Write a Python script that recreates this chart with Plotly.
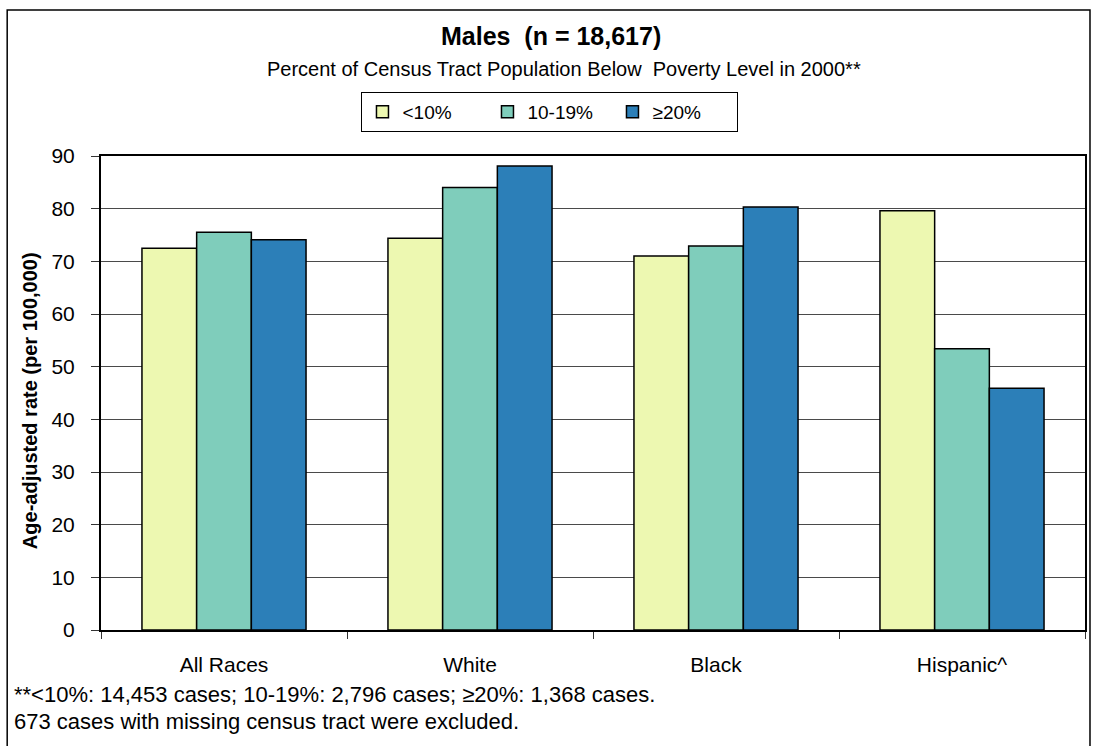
import plotly.graph_objects as go

# Age-adjusted rates (per 100,000) by race and census-tract poverty level
races = ["All Races", "White", "Black", "Hispanic^"]
poverty_levels = ["<10%", "10-19%", "≥20%"]
rate_lt10 = [72.5, 74.4, 71.0, 79.6]
rate_10_19 = [75.5, 84.0, 72.9, 53.4]
rate_ge20 = [74.1, 88.1, 80.3, 45.9]
bar_colors = ["#EDF8B1", "#7FCDBB", "#2C7FB8"]
y_ticks = [0, 10, 20, 30, 40, 50, 60, 70, 80, 90]

W, H = 1094, 746
ML, MR, MT, MB = 101, 7, 156, 116
PW, PH = W - ML - MR, H - MT - MB


def px_x(px):
    return (px - ML) / PW


def px_y(py):
    return (H - MB - py) / PH


FONT = "Arial, Liberation Sans, sans-serif"

fig = go.Figure()
for name, vals, col in zip(poverty_levels, [rate_lt10, rate_10_19, rate_ge20], bar_colors):
    fig.add_trace(go.Bar(
        x=races, y=vals, name=name,
        marker=dict(color=col, line=dict(color="black", width=1.5)),
    ))

fig.update_layout(
    width=W, height=H,
    margin=dict(l=ML, r=MR, t=MT, b=MB, pad=0),
    paper_bgcolor="white", plot_bgcolor="white",
    font=dict(family=FONT, color="black", size=18),
    barmode="group", bargap=0.333, bargroupgap=0,
    showlegend=True,
    legend=dict(
        orientation="h", x=px_x(362), y=px_y(92), xanchor="left", yanchor="top",
        bordercolor="black", borderwidth=1, bgcolor="white",
        font=dict(size=19, family=FONT), entrywidth=80, itemwidth=30,
        traceorder="normal",
    ),
    xaxis=dict(
        type="category", showgrid=False, ticks="outside", tickson="boundaries",
        ticklen=7, tickcolor="#333", tickwidth=1,
        showline=True, linecolor="black", linewidth=1.5, mirror=True,
        tickfont=dict(size=21), ticklabelstandoff=15,
    ),
    yaxis=dict(
        range=[0, 90], tickvals=y_ticks, ticks="outside", ticklen=8,
        tickcolor="#333", tickwidth=1,
        showgrid=True, gridcolor="#4a4a4a", gridwidth=1, zeroline=False,
        showline=True, linecolor="black", linewidth=2, mirror=True,
        tickfont=dict(size=21), ticklabelstandoff=12,
    ),
)

# Outer frame around the whole chart
fig.add_shape(type="rect", xref="paper", yref="paper",
              x0=px_x(7), x1=px_x(1092), y0=px_y(752), y1=px_y(10),
              line=dict(color="black", width=1.5), fillcolor="rgba(0,0,0,0)",
              layer="below")

annotations = [
    dict(text="<b>Males\u00a0\u00a0(n = 18,617)</b>", x=px_x(552), y=px_y(36),
         font=dict(size=25)),
    dict(text="Percent of Census Tract Population Below\u00a0\u00a0Poverty Level in 2000**",
         x=px_x(565), y=px_y(69), font=dict(size=20)),
    dict(text="<b>Age-adjusted rate (per 100,000)</b>", x=px_x(30), y=px_y(401),
         textangle=-90, font=dict(size=20)),
    dict(text="**<10%: 14,453 cases; 10-19%: 2,796 cases; ≥20%: 1,368 cases.",
         x=px_x(12), y=px_y(694), xanchor="left", font=dict(size=22)),
    dict(text="673 cases with missing census tract were excluded.",
         x=px_x(12), y=px_y(721), xanchor="left", font=dict(size=22)),
]
for a in annotations:
    a.setdefault("xanchor", "center")
    fig.add_annotation(xref="paper", yref="paper", showarrow=False,
                       yanchor="middle", **a)

fig.write_html("out.html")
